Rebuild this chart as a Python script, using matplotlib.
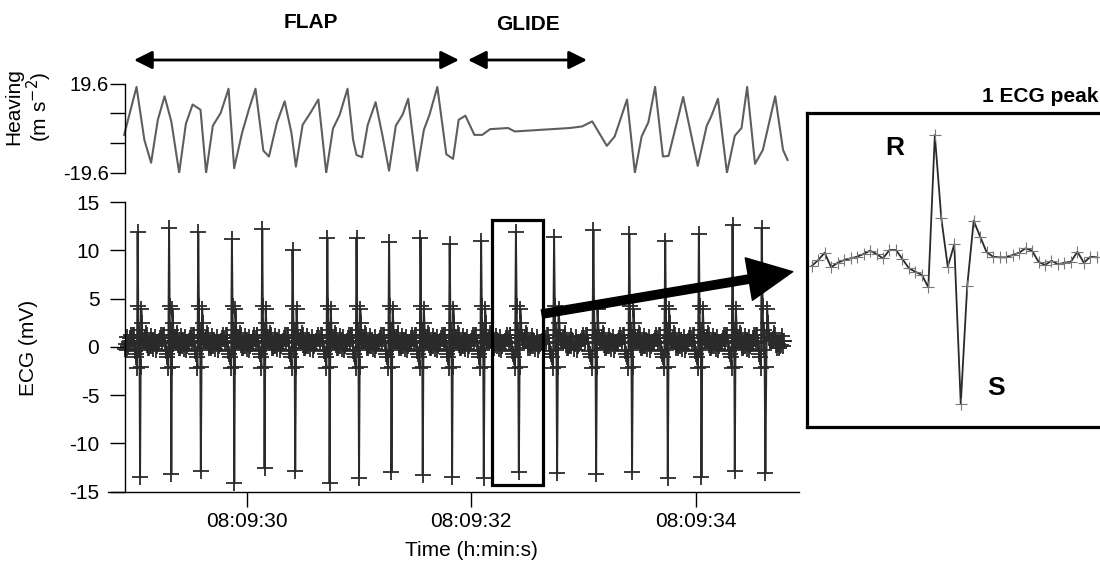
import numpy as np
import matplotlib
matplotlib.use("Agg")
import matplotlib.pyplot as plt
from matplotlib.patches import FancyArrowPatch, Rectangle

plt.rcParams['font.family'] = ['Liberation Sans', 'DejaVu Sans']
plt.rcParams['axes.unicode_minus'] = False

# time is in s after 08:09:00
# heaving acceleration (m s-2), vertices
heave_t = [28.91, 29.02, 29.09, 29.15, 29.21, 29.27, 29.33, 29.40, 29.46, 29.52,
           29.59, 29.64, 29.70, 29.77, 29.84, 29.89, 29.96, 30.02, 30.08, 30.15,
           30.20, 30.27, 30.34, 30.40, 30.44, 30.50, 30.57, 30.64, 30.71, 30.77,
           30.83, 30.90, 30.95, 30.98, 31.03, 31.08, 31.15, 31.21, 31.27, 31.33,
           31.39, 31.44, 31.48, 31.52, 31.58, 31.63, 31.70, 31.78, 31.84, 31.89,
           31.95, 32.03, 32.10, 32.17, 32.33, 32.39, 32.88, 32.99, 33.08, 33.21,
           33.28, 33.39, 33.46, 33.52, 33.58, 33.64, 33.71, 33.76, 33.89, 34.02,
           34.10, 34.14, 34.20, 34.28, 34.35, 34.41, 34.46, 34.53, 34.60, 34.71,
           34.78, 34.82]
heave_v = [-2.9, 18.1, -5.1, -15.1, 3.7, 14.0, 3.0, -19.5, 2.0, 10.4,
           8.1, -19.5, 1.1, 6.7, 17.3, -17.5, -2.1, 8.1, 17.3, -9.8,
           -12.4, 2.3, 11.8, -2.0, -16.8, 1.5, 6.8, 12.6, -19.5, -0.2,
           5.9, 17.3, -5.1, -11.7, -12.7, 1.5, 11.4, -2.9, -18.6, 1.1,
           5.9, 12.9, -2.9, -18.6, -0.7, 5.9, 18.1, -11.4, -13.4, 3.7,
           5.5, -2.9, -2.9, -0.4, 0.1, -1.4, 0.1, 0.8, 3.0, -7.7,
           -3.6, 12.6, -19.5, -3.6, 2.6, 18.1, -12.4, -12.1, 13.7, -16.5,
           1.1, 5.2, 12.9, -19.5, -3.3, 0.1, 18.1, -15.6, -9.5, 14.0,
           -9.5, -13.9]

# R peaks of the ECG trace: time, R and S amplitude (mV)
r_times = [29.03, 29.31, 29.57, 29.87, 30.14, 30.41, 30.72, 30.98, 31.27, 31.55,
           31.81, 32.09, 32.40, 32.74, 33.09, 33.41, 33.73, 34.03, 34.33, 34.59]
r_peaks = [11.9, 12.3, 11.9, 11.2, 12.2, 10.0, 11.3, 11.3, 10.9, 11.3,
           10.7, 11.0, 11.9, 11.4, 12.1, 11.7, 11.0, 11.7, 12.6, 12.3]
s_peaks = [-13.5, -13.2, -12.9, -14.1, -12.5, -12.9, -14.1, -13.6, -13.0, -13.3,
           -13.5, -13.6, -13.0, -13.1, -13.2, -13.0, -13.6, -13.5, -12.9, -13.1]

# one heartbeat as shown in the inset (mV per sample)
beat_shape = [-0.23, 0.32, 1.00, -0.35, 0.07, 0.32, 0.48, 0.63, 0.88, 1.19,
              0.88, 0.48, 1.25, 1.25, 0.42, -0.44, -0.76, -1.06, -2.20, 11.90,
              4.19, -0.30, 1.78, -13.01, -2.08, 3.96, 2.48, 1.04, 0.63, 0.57,
              0.57, 0.79, 1.00, 1.41, 1.19, 0.17, -0.14, 0.26, -0.07, 0.07,
              0.17, 1.09, 0.07, 0.63, 0.57]
R_IDX, S_IDX = 19, 23

ecg_start, ecg_end = 28.92, 34.80
tick_times = [30, 32, 34]
tick_labels = ['08:09:30', '08:09:32', '08:09:34']

# full ECG trace: the inset beat around every R peak, with that beat's R and S
rt = np.array(r_times)
edges = np.concatenate([[ecg_start], (rt[1:] + rt[:-1]) / 2, [ecg_end]])
n_after = len(beat_shape) - R_IDX - 1
ecg_t, ecg_v = [], []
for i, tr in enumerate(rt):
    beat = list(beat_shape)
    beat[R_IDX] = r_peaks[i]
    beat[S_IDX] = s_peaks[i]
    ecg_t.extend(np.linspace(edges[i], tr, R_IDX + 1))
    ecg_t.extend(np.linspace(tr, edges[i + 1], n_after + 2)[1:-1])
    ecg_v.extend(beat)

W, H = 1100, 565
def fx(px):
    return px / W
def fy(py):
    return 1 - py / H

fig = plt.figure(figsize=(11, 5.65), dpi=100)
xlim = (28.766, 34.922)
spine_x = 28.918

# ECG panel
ax = fig.add_axes([fx(108), fy(491.7), (799 - 108) / W, (491.7 - 202) / H])
ax.plot(ecg_t, ecg_v, color='#2a2a2a', lw=1.4, marker='+', ms=11, mew=1.3)
ax.set_xlim(xlim)
ax.set_ylim(-15, 15)
ax.spines[['top', 'right']].set_visible(False)
ax.spines['left'].set_position(('data', spine_x))
for s in ['left', 'bottom']:
    ax.spines[s].set_linewidth(1.0)
ax.set_yticks(range(-15, 16, 5))
ax.set_xticks(tick_times)
ax.set_xticklabels(tick_labels)
ax.tick_params(direction='out', length=10.5, width=1, labelsize=15)
ax.tick_params(axis='y', pad=8)
ax.tick_params(axis='x', pad=4)
ax.add_patch(Rectangle((32.19, -14.3), 0.45, 27.4, fill=False, lw=2.3,
                       ec='black', zorder=5))

# heaving panel
axh = fig.add_axes([fx(108), fy(173), (799 - 108) / W, (173 - 83.5) / H])
axh.plot(heave_t, heave_v, color='#5e5e5e', lw=1.5)
axh.set_xlim(xlim)
axh.set_ylim(-19.6, 19.6)
axh.spines[['top', 'right', 'bottom']].set_visible(False)
axh.spines['left'].set_position(('data', spine_x))
axh.spines['left'].set_linewidth(1.0)
axh.set_xticks([])
axh.set_yticks([19.6, 6.533, -6.533, -19.6])
axh.set_yticklabels(['19.6', '', '', '-19.6'])
axh.tick_params(axis='y', direction='out', length=10.5, width=1,
                labelsize=14.5, pad=1)
axh.patch.set_alpha(0)

# inset with a single beat
axi = fig.add_axes([fx(807), fy(427), (1140 - 807) / W, (427 - 113) / H])
axi.plot(range(len(beat_shape)), beat_shape, color='#2a2a2a', lw=1.3,
         marker='+', ms=8, mew=0.8, mec='#777777')
axi.set_xlim(-0.725, 50.66)
axi.set_ylim(-15.14, 13.94)
axi.set_xticks([])
axi.set_yticks([])
for s in axi.spines.values():
    s.set_linewidth(2.3)

# labels
fig.text(fx(471.6), fy(550), 'Time (h:min:s)', ha='center', va='center',
         fontsize=15)
fig.text(fx(28), fy(348), 'ECG (mV)', rotation=90, ha='center', va='center',
         fontsize=15)
fig.text(fx(29), fy(107), 'Heaving\n(m s$^{-2}$)', rotation=90, ha='center',
         va='center', fontsize=15, linespacing=1.05)
fig.text(fx(311), fy(23), 'FLAP', ha='center', va='center', fontsize=15,
         fontweight='bold')
fig.text(fx(528), fy(24), 'GLIDE', ha='center', va='center', fontsize=15,
         fontweight='bold')
fig.text(fx(982), fy(97), '1 ECG peak', ha='left', va='center', fontsize=15,
         fontweight='bold')
fig.text(fx(895), fy(148), 'R', ha='center', va='center', fontsize=19,
         fontweight='bold')
fig.text(fx(996), fy(388), 'S', ha='center', va='center', fontsize=19,
         fontweight='bold')

# phase arrows
for x0, x1 in [(134, 459), (468, 587)]:
    fig.patches.append(FancyArrowPatch((fx(x0), fy(60)), (fx(x1), fy(60)),
                                       transform=fig.transFigure,
                                       arrowstyle='<|-|>,head_length=0.5,head_width=0.25',
                                       mutation_scale=22, lw=2.0, color='black',
                                       shrinkA=0, shrinkB=0))

# arrow from the boxed beat to the inset
fig.patches.append(FancyArrowPatch((fx(542), fy(314)), (fx(792.7), fy(271.7)),
                                   transform=fig.transFigure,
                                   arrowstyle='simple,head_length=32,head_width=31,tail_width=6',
                                   mutation_scale=1, color='black',
                                   shrinkA=0, shrinkB=0, zorder=10))

fig.savefig('out.png', dpi=100)
